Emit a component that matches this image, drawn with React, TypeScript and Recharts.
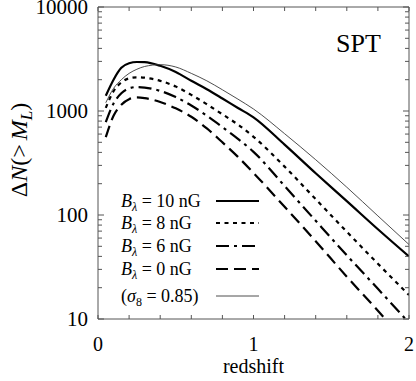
import React from 'react';
import { LineChart, Line, XAxis, YAxis, Customized } from 'recharts';

// ---- data ----
const redshift = [0.05, 0.1, 0.15, 0.2, 0.25, 0.3, 0.4, 0.5, 0.6, 0.7, 0.8, 0.9, 1.0, 1.2, 1.4, 1.6, 1.8, 2.0];
const nB10 = [1400, 2000, 2600, 2880, 2960, 2950, 2720, 2370, 1950, 1620, 1320, 1070, 870, 475, 252, 136, 73, 40];
const nB8 = [1070, 1550, 1880, 2060, 2110, 2090, 1950, 1720, 1430, 1160, 930, 740, 565, 292, 142, 69, 34, 17];
const nB6 = [780, 1180, 1480, 1650, 1700, 1680, 1560, 1360, 1130, 900, 700, 540, 405, 190, 88, 41, 19.5, 9.2];
const nB0 = [560, 900, 1150, 1300, 1350, 1330, 1220, 1060, 880, 680, 500, 362, 254, 120, 56, 25.5, 12, 5.5];
const nSigma = [1200, 1650, 2000, 2300, 2520, 2680, 2790, 2650, 2300, 1950, 1600, 1300, 1045, 605, 340, 185, 98, 52];

const xTicks = [0, 0.2, 0.4, 0.6, 0.8, 1, 1.2, 1.4, 1.6, 1.8, 2];
const xTickLabels = [0, 1, 2];
const yTicks = [10, 20, 30, 40, 50, 60, 70, 80, 90, 100, 200, 300, 400, 500, 600, 700, 800, 900,
  1000, 2000, 3000, 4000, 5000, 6000, 7000, 8000, 9000, 10000];
const yTickLabels = [10, 100, 1000, 10000];

const seriesDefs = [
  { key: 'b10', bValue: '10', values: nB10, dash: undefined as string | undefined, width: 2.2, color: '#000' },
  { key: 'b8', bValue: '8', values: nB8, dash: '4 4.5', width: 2.2, color: '#000' },
  { key: 'b6', bValue: '6', values: nB6, dash: '13 5 3 5', width: 2.2, color: '#000' },
  { key: 'b0', bValue: '0', values: nB0, dash: '12 6', width: 2.2, color: '#000' },
  { key: 'sigma', bValue: null as string | null, values: nSigma, dash: undefined as string | undefined, width: 0.9, color: '#3a3a3a' },
];

const data = redshift.map((z, i) => {
  const row: Record<string, number> = { z };
  seriesDefs.forEach((s) => { row[s.key] = s.values[i]; });
  return row;
});

const txt = { fontFamily: 'Liberation Serif' };
const AXIS = '#555';

const BottomTick = (props: any) => {
  const { x, y, payload } = props;
  const v = payload.value;
  const lab = xTickLabels.includes(v);
  return (
    <g>
      <line x1={x} x2={x} y1={y} y2={y - 4} stroke={AXIS} strokeWidth={1} />
      {lab && (
        <text x={x} y={y + 32} textAnchor="middle" style={txt} fontSize={20} fill="#000">{v}</text>
      )}
    </g>
  );
};

const TopTick = (props: any) => {
  const { x, y } = props;
  return <line x1={x} x2={x} y1={y} y2={y + 4} stroke={AXIS} strokeWidth={1} />;
};

const LeftTick = (props: any) => {
  const { x, y, payload } = props;
  const v = payload.value;
  const lab = yTickLabels.includes(v);
  return (
    <g>
      <line x1={x} x2={x + (lab ? 6 : 4)} y1={y} y2={y} stroke={AXIS} strokeWidth={1} />
      {lab && (
        <text x={x - 10} y={y} dy="0.35em" textAnchor="end" style={txt} fontSize={21} fill="#000">{v}</text>
      )}
    </g>
  );
};

const RightTick = (props: any) => {
  const { x, y, payload } = props;
  const lab = yTickLabels.includes(payload.value);
  return <line x1={x} x2={x - (lab ? 6 : 4)} y1={y} y2={y} stroke={AXIS} strokeWidth={1} />;
};

const Annotations = () => {
  const rowY = [201, 223, 246, 269, 296];
  const textX = 121;
  const lineX1 = 216;
  const lineX2 = 259;
  return (
    <g fill="#000">
      {/* Y axis title */}
      <text transform="translate(27,150) rotate(-90)" textAnchor="middle" fontSize={24} style={txt}>
        <tspan>Δ</tspan>
        <tspan fontStyle="italic">N</tspan>
        <tspan>(&gt;</tspan>
        <tspan fontStyle="italic" dx={4}>M</tspan>
        <tspan fontStyle="italic" fontSize={17} dy={5}>L</tspan>
        <tspan dy={-5}>)</tspan>
      </text>
      {/* SPT */}
      <text x={336} y={52} fontSize={26} style={txt}>SPT</text>
      {/* legend */}
      {seriesDefs.map((s, i) => (
        <g key={s.key}>
          {s.bValue !== null ? (
            <text x={textX} y={rowY[i] + 6} fontSize={18} style={txt}>
              <tspan fontStyle="italic">B</tspan>
              <tspan fontSize={12} dy={4} fontStyle="italic">λ</tspan>
              <tspan dy={-4}>{` = ${s.bValue}  nG`}</tspan>
            </text>
          ) : (
            <text x={textX} y={rowY[i] + 6} fontSize={18} style={txt}>
              <tspan>(</tspan>
              <tspan fontStyle="italic">σ</tspan>
              <tspan fontSize={12} dy={4}>8</tspan>
              <tspan dy={-4}>{' = 0.85)'}</tspan>
            </text>
          )}
          <line x1={lineX1} x2={lineX2} y1={rowY[i]} y2={rowY[i]} stroke={s.color}
            strokeWidth={s.width} strokeDasharray={s.dash} />
        </g>
      ))}
    </g>
  );
};

export default function App() {
  return (
    <div style={{ position: 'absolute', left: 0, top: 0, background: '#fff' }}>
      <LineChart width={416} height={381} data={data} margin={{ top: 0, right: 0, bottom: 0, left: 0 }}>
        <XAxis xAxisId="b" orientation="bottom" type="number" dataKey="z" domain={[0, 2]} allowDataOverflow
          ticks={xTicks} interval={0} height={62} tickSize={0} tickMargin={0} tickLine={false}
          axisLine={{ stroke: AXIS }} tick={<BottomTick />}
          label={{
            content: (p: any) => {
              const vb = p.viewBox || { x: 98, y: 319, width: 311, height: 62 };
              return (
                <text x={vb.x + vb.width / 2} y={vb.y + 54} textAnchor="middle" style={txt} fontSize={20} fill="#000">redshift</text>
              );
            },
          }} />
        <XAxis xAxisId="t" orientation="top" type="number" dataKey="z" domain={[0, 2]} allowDataOverflow
          ticks={xTicks} interval={0} height={7} tickSize={0} tickMargin={0} tickLine={false}
          axisLine={{ stroke: AXIS }} tick={<TopTick />} />
        <YAxis yAxisId="l" orientation="left" scale="log" type="number" domain={[10, 10000]} allowDataOverflow
          ticks={yTicks} interval={0} width={98} tickSize={0} tickMargin={0} tickLine={false}
          axisLine={{ stroke: AXIS }} tick={<LeftTick />} />
        <YAxis yAxisId="r" orientation="right" scale="log" type="number" domain={[10, 10000]} allowDataOverflow
          ticks={yTicks} interval={0} width={7} tickSize={0} tickMargin={0} tickLine={false}
          axisLine={{ stroke: AXIS }} tick={<RightTick />} />
        {seriesDefs.map((s) => (
          <Line key={s.key} xAxisId="b" yAxisId="l" dataKey={s.key} type="monotone" stroke={s.color}
            strokeWidth={s.width} strokeDasharray={s.dash} dot={false} activeDot={false}
            isAnimationActive={false} />
        ))}
        <Customized component={<Annotations />} />
      </LineChart>
    </div>
  );
}
